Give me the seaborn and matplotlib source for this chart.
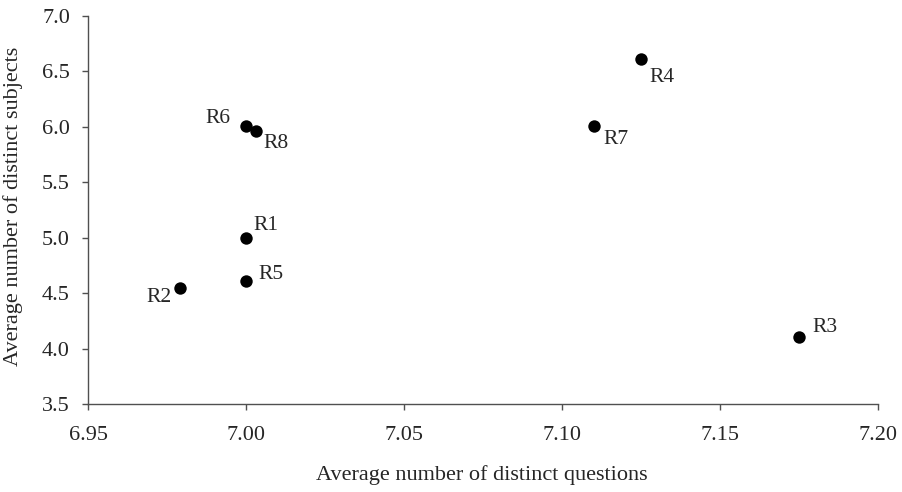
import seaborn as sns
import numpy as np
import pandas as pd
import matplotlib
matplotlib.use('Agg')

import matplotlib.pyplot as plt

# Data
labels = ['R1', 'R2', 'R3', 'R4', 'R5', 'R6', 'R7', 'R8']
questions = [7.000, 6.979, 7.175, 7.125, 7.000, 7.000, 7.110, 7.003]
subjects = [5.00, 4.55, 4.10, 6.61, 4.61, 6.01, 6.01, 5.96]

# label centre offsets from the dot, in pixels (dx right, dy up)
offsets = {
    'R1': (20, 12),
    'R5': (25, 6),
    'R2': (-21, -10),
    'R6': (-28, 7),
    'R8': (21, -12),
    'R4': (21, -18),
    'R7': (22, -14),
    'R3': (26, 10),
}

df = pd.DataFrame({'label': labels, 'questions': questions, 'subjects': subjects})

sns.set_style('ticks')
plt.rcParams['font.family'] = ['Liberation Serif', 'DejaVu Serif']

fig, ax = plt.subplots(figsize=(9.02, 4.92), dpi=100)
fig.subplots_adjust(left=0.0976, right=0.9734, top=0.9675, bottom=0.179)

sns.scatterplot(data=df, x='questions', y='subjects', ax=ax, color='black',
                s=80, edgecolor='black', linewidth=0)

for _, row in df.iterrows():
    dx, dy = offsets[row['label']]
    ax.annotate(row['label'], (row['questions'], row['subjects']),
                xytext=(dx, dy), textcoords='offset pixels',
                ha='center', va='center', fontsize=15.5)

ax.set_xlim(6.95, 7.20)
ax.set_ylim(3.5, 7.0)
ax.set_xticks(np.arange(6.95, 7.201, 0.05))
ax.set_yticks(np.arange(3.5, 7.01, 0.5))
ax.xaxis.set_major_formatter(matplotlib.ticker.FormatStrFormatter('%.2f'))
ax.yaxis.set_major_formatter(matplotlib.ticker.FormatStrFormatter('%.1f'))
ax.tick_params(labelsize=16, length=4, width=1, color='#505050')
ax.tick_params(axis='y', pad=9)
ax.tick_params(axis='x', pad=12)

for side in ['top', 'right']:
    ax.spines[side].set_visible(False)
for side in ['left', 'bottom']:
    ax.spines[side].set_color('#505050')
    ax.spines[side].set_linewidth(1)

ax.set_xlabel('Average number of distinct questions', fontsize=16)
ax.set_ylabel('Average number of distinct subjects', fontsize=16)
ax.xaxis.set_label_coords(0.499, -0.157)
ax.yaxis.set_label_coords(-0.082, 0.508)

plt.savefig('out.png', dpi=100)
